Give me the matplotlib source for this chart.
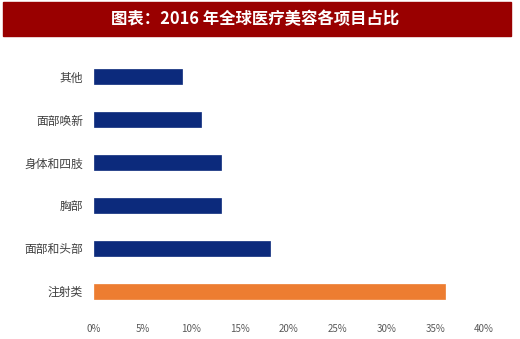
import matplotlib
matplotlib.use("Agg")
import matplotlib.pyplot as plt
from matplotlib.patches import Rectangle

# categories top -> bottom
categories = ["其他", "面部唤新", "身体和四肢", "胸部", "面部和头部", "注射类"]
shares = [9, 11, 13, 13, 18, 36]          # percent
highlight = "注射类"
xticks = [0, 5, 10, 15, 20, 25, 30, 35, 40]

NAVY = "#0C2A7C"
ORANGE = "#ED7D31"
RED = "#990000"
GREY = "#595959"

plt.rcParams["font.family"] = ["Noto Sans CJK SC", "DejaVu Sans"]

fig = plt.figure(figsize=(5.2, 3.39), dpi=100)
fig.patches.append(Rectangle((3 / 520, 1 - 36 / 339), 508 / 520, 34 / 339,
                             transform=fig.transFigure, color=RED, zorder=0))
fig.text(0.49, 1 - 19 / 339, "图表：2016 年全球医疗美容各项目占比", color="white",
         fontsize=11.8, fontweight="bold", ha="center", va="center")

ax = fig.add_axes([94 / 520, 1 - 312.5 / 339, 390 / 520, 257 / 339])
ys = list(range(len(categories)))
colors = [ORANGE if c == highlight else NAVY for c in categories]
ax.barh(ys, shares, height=0.35, color=colors, edgecolor=colors, linewidth=0.5)
ax.set_ylim(len(categories) - 0.5, -0.5)
ax.set_xlim(0, 40)
ax.set_yticks(ys)
ax.set_yticklabels(categories, fontsize=8.5, color="#404040")
ax.set_xticks(xticks)
ax.set_xticklabels([f"{t}%" for t in xticks], fontsize=7, color=GREY)
ax.tick_params(length=0)
ax.tick_params(axis="x", pad=8)
ax.tick_params(axis="y", pad=8)
for s in ax.spines.values():
    s.set_visible(False)

fig.savefig("out.png", dpi=100, facecolor="white")
